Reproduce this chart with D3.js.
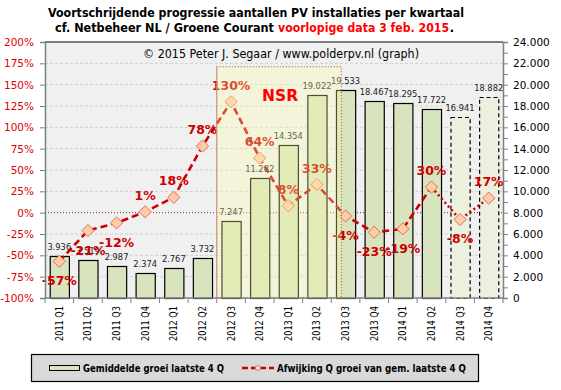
<!DOCTYPE html>
<html><head><meta charset="utf-8">
<script src="https://cdn.jsdelivr.net/npm/d3@7"></script>
<style>
body{margin:0;background:#fff;}
svg{display:block;font-family:"DejaVu Sans",Verdana,sans-serif;}
</style></head>
<body><svg id="c" width="561" height="390"></svg>
<script>
const categories = ["2011 Q1","2011 Q2","2011 Q3","2011 Q4","2012 Q1","2012 Q2","2012 Q3","2012 Q4","2013 Q1","2013 Q2","2013 Q3","2013 Q4","2014 Q1","2014 Q2","2014 Q3","2014 Q4"];
const installations = [3936,3519,2987,2374,2767,3732,7247,11282,14354,19022,19533,18467,18295,17722,16941,18882];
const deviationPct = [-57,-21,-12,1,18,78,130,64,8,33,-4,-23,-19,30,-8,17];
const provisionalCats = ["2014 Q3","2014 Q4"];
const leftTicks = [-100,-75,-50,-25,0,25,50,75,100,125,150,175,200];
const rightTicks = [0,2000,4000,6000,8000,10000,12000,14000,16000,18000,20000,22000,24000];
const nsrCats = ["2012 Q3","2013 Q3"];
const nsrTopPct = 171;

const svg = d3.select("#c");
const L=45,R=503,T=42,B=298;
const x = d3.scaleBand().domain(categories).range([L,R]).paddingInner(0.33).paddingOuter(0.165);
const yL = d3.scaleLinear().domain([-100,200]).range([B,T]);
const yR = d3.scaleLinear().domain([0,24000]).range([B,T]);
const bw = x.bandwidth(), step = x.step();
const cx = c => x(c)+bw/2;
const nl = v => d3.format(",")(v).replace(/,/g,".");

// plot background
svg.append("rect").attr("x",L).attr("y",T).attr("width",R-L).attr("height",B-T).attr("fill","#f0f0f0");
// gridlines
svg.append("g").selectAll("line").data(leftTicks.filter(d=>d!==0&&d!==200&&d!==-100)).join("line")
  .attr("x1",L).attr("x2",R).attr("y1",d=>yL(d)).attr("y2",d=>yL(d))
  .attr("stroke","#cfcfcf").attr("stroke-dasharray","3,2").attr("stroke-width",1);
// zero line
svg.append("line").attr("x1",L).attr("x2",R).attr("y1",yL(0)).attr("y2",yL(0))
  .attr("stroke","#8b3030").attr("stroke-dasharray","1,2").attr("stroke-width",1);

// bars
const data = categories.map((c,i)=>({c,v:installations[i],p:deviationPct[i],prov:provisionalCats.includes(c)}));
svg.append("g").selectAll("rect").data(data).join("rect")
  .attr("x",d=>x(d.c)+0.5).attr("width",bw)
  .attr("y",d=>Math.round(yR(d.v))+0.5).attr("height",d=>B-Math.round(yR(d.v)))
  .attr("fill",d=>d.prov?"#ebf1de":"#d7e4bd")
  .attr("stroke","#000").attr("stroke-width",1.2)
  .attr("stroke-dasharray",d=>d.prov?"4,3":null);

// line
const lineGen = d3.line().x(d=>cx(d.c)).y(d=>yL(d.p));
const lastSolid = categories.indexOf(provisionalCats[0])-1;
svg.append("path").attr("d",lineGen(data.slice(0,lastSolid+1))).attr("fill","none")
  .attr("stroke","#cc0000").attr("stroke-width",2.6).attr("stroke-dasharray","7,4");
svg.append("path").attr("d",lineGen(data.slice(lastSolid))).attr("fill","none")
  .attr("stroke","#cc0000").attr("stroke-width",2.6).attr("stroke-dasharray","2,3");
// diamonds
svg.append("g").selectAll("path").data(data).join("path")
  .attr("d",d3.symbol().type(d3.symbolDiamond2).size(95))
  .attr("transform",d=>`translate(${cx(d.c)},${yL(d.p)})`)
  .attr("fill","#ffcca8").attr("stroke","#e0705a").attr("stroke-width",1);

// bar labels
svg.append("g").selectAll("text").data(data).join("text")
  .attr("x",d=>cx(d.c)).attr("y",d=>yR(d.v)-6).attr("text-anchor","middle")
  .attr("font-size",8.3).attr("fill","#222").text(d=>nl(d.v));
// percent labels
svg.append("g").selectAll("text").data(data).join("text")
  .attr("x",d=>cx(d.c)).attr("y",d=>d.p>=0?yL(d.p)-12:yL(d.p)+24).attr("text-anchor","middle")
  .attr("font-size",12.5).attr("font-weight","bold").attr("fill","#cc0000").text(d=>d.p+"%");

// NSR overlay
const nx0 = x(nsrCats[0]) - x.paddingInner()*step/2;
const nx1 = x(nsrCats[1]) + bw*0.28;
svg.append("rect").attr("x",nx0).attr("y",yL(nsrTopPct)).attr("width",nx1-nx0).attr("height",B-yL(nsrTopPct))
  .attr("fill","rgb(255,255,170)").attr("fill-opacity",0.3)
  .attr("stroke","#a0522d").attr("stroke-dasharray","1,2").attr("stroke-width",1);
svg.append("line").attr("x1",nx0).attr("x2",nx0).attr("y1",yL(nsrTopPct)).attr("y2",B).attr("stroke","#c8946a").attr("stroke-width",1);
svg.append("text").attr("x",(nx0+nx1)/2+1).attr("y",101).attr("text-anchor","middle")
  .attr("font-size",15.5).attr("font-weight","bold").attr("fill","#ff0000").text("NSR");

// top border
svg.append("line").attr("x1",L).attr("x2",R).attr("y1",T).attr("y2",T).attr("stroke","#000").attr("stroke-width",1.2);

// left axis
const gl = svg.append("g").attr("transform",`translate(${L},0)`)
  .call(d3.axisLeft(yL).tickValues(leftTicks).tickFormat(d=>d+"%").tickSize(5).tickPadding(6));
gl.select(".domain").attr("stroke","#808080").attr("stroke-width",1.5);
gl.selectAll(".tick line").attr("stroke","#808080");
gl.selectAll("text").attr("fill","#dd0000").attr("font-size",10.5).attr("font-family","DejaVu Sans");

// right axis
const gr = svg.append("g").attr("transform",`translate(${R},0)`)
  .call(d3.axisRight(yR).tickValues(d3.range(0,24001,1000)).tickFormat(d=>rightTicks.includes(d)?nl(d):"").tickSize(5).tickPadding(5));
gr.select(".domain").attr("stroke","#808080").attr("stroke-width",1.5);
gr.selectAll(".tick line").attr("stroke","#808080");
gr.selectAll("text").attr("fill","#000").attr("font-size",10.5).attr("font-family","DejaVu Sans");

// x axis
svg.append("line").attr("x1",L).attr("x2",R).attr("y1",B).attr("y2",B).attr("stroke","#808080").attr("stroke-width",1.5);
svg.append("g").selectAll("line").data(categories.concat(["end"])).join("line")
  .attr("x1",(d,i)=>L+i*step).attr("x2",(d,i)=>L+i*step).attr("y1",B).attr("y2",B+5)
  .attr("stroke","#808080");
svg.append("g").selectAll("text").data(categories).join("text")
  .attr("transform",d=>`translate(${cx(d)+3.5},${B+8}) rotate(-90)`)
  .attr("text-anchor","end").attr("font-size",10).attr("textLength",35).attr("lengthAdjust","spacingAndGlyphs")
  .attr("fill","#000").text(d=>d);

// titles
svg.append("text").attr("x",256).attr("y",16.5).attr("text-anchor","middle").attr("font-size",12.5).attr("font-weight","bold")
  .attr("textLength",416).attr("lengthAdjust","spacingAndGlyphs").attr("fill","#000")
  .text("Voortschrijdende progressie aantallen PV installaties per kwartaal");
svg.append("text").attr("x",55).attr("y",32).attr("font-size",12.5).attr("font-weight","bold").attr("fill","#000")
  .attr("textLength",219).attr("lengthAdjust","spacingAndGlyphs").text("cf. Netbeheer NL / Groene Courant");
svg.append("text").attr("x",278).attr("y",32).attr("font-size",12.5).attr("font-weight","bold").attr("fill","#ff0000")
  .attr("textLength",171).attr("lengthAdjust","spacingAndGlyphs").text("voorlopige data 3 feb. 2015");
svg.append("text").attr("x",449.5).attr("y",32).attr("font-size",12.5).attr("font-weight","bold").attr("fill","#000").text(".");
svg.append("text").attr("x",143).attr("y",58).attr("font-size",11.5).attr("fill","#000")
  .attr("textLength",276).attr("lengthAdjust","spacingAndGlyphs")
  .text("© 2015 Peter J. Segaar / www.polderpv.nl (graph)");

// legend
const lg = svg.append("g");
lg.append("rect").attr("x",31.5).attr("y",354.5).attr("width",447).attr("height",27).attr("fill","#d9d9d9").attr("stroke","#000").attr("stroke-width",1.2);
lg.append("rect").attr("x",49.5).attr("y",365.5).attr("width",30).attr("height",5).attr("fill","#d7e4bd").attr("stroke","#000");
lg.append("text").attr("x",83).attr("y",372).attr("font-size",10.5).attr("font-weight","bold")
  .attr("textLength",141).attr("lengthAdjust","spacingAndGlyphs").text("Gemiddelde groei laatste 4 Q");
lg.append("line").attr("x1",242).attr("x2",274).attr("y1",368).attr("y2",368).attr("stroke","#cc0000").attr("stroke-width",2.4).attr("stroke-dasharray","6,3");
lg.append("path").attr("d",d3.symbol().type(d3.symbolDiamond2).size(22)).attr("transform","translate(258,368)")
  .attr("fill","#ffe0d0").attr("stroke","#e0705a");
lg.append("text").attr("x",277).attr("y",372).attr("font-size",10.5).attr("font-weight","bold")
  .attr("textLength",189).attr("lengthAdjust","spacingAndGlyphs").text("Afwijking Q groei van gem. laatste 4 Q");
</script></body></html>
